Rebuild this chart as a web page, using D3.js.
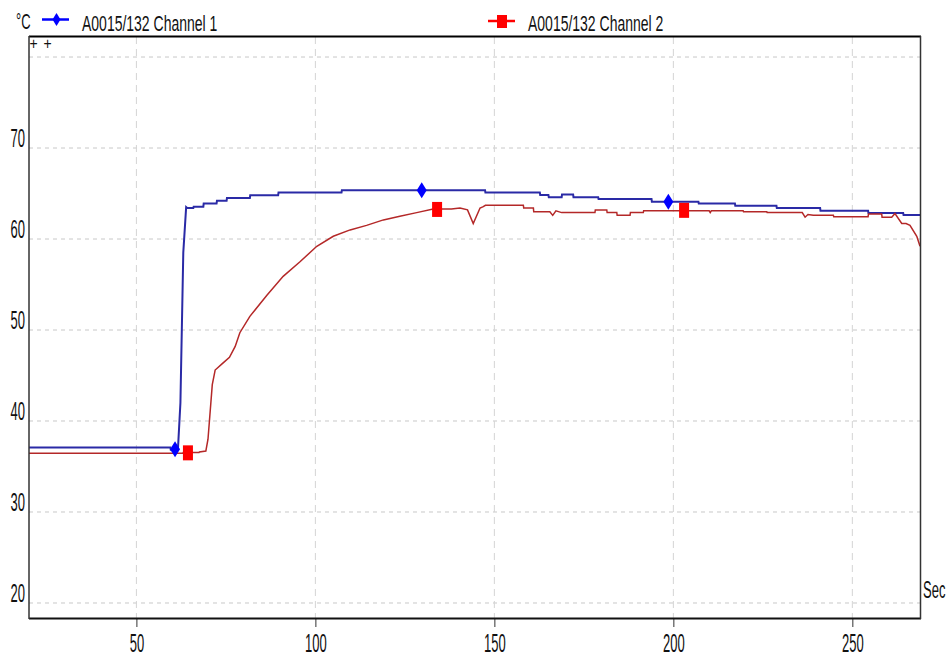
<!DOCTYPE html>
<html>
<head>
<meta charset="utf-8">
<script src="https://cdn.jsdelivr.net/npm/d3@7"></script>
<style>
  body { margin: 0; background: #fff; }
  text { font-family: "Liberation Sans", Arial, sans-serif; fill: #111; }
</style>
</head>
<body>
<svg></svg>
<script>
// Series names and axis ticks
const seriesNames = ["A0015/132 Channel 1", "A0015/132 Channel 2"];
const timeTicks = [50, 100, 150, 200, 250];
const tempTicks = [20, 30, 40, 50, 60, 70];
const gridTemps = [20, 30, 40, 50, 60, 70, 80];

// Channel 1 (time in sec, temperature in °C)
const ch1Time = [20, 59.5, 59.6, 61.6, 62.3, 63.1, 63.9, 64.2, 65.9, 66.0, 68.7, 68.8, 72.4, 72.5, 75.2, 75.3,
  81.7, 81.8, 89.6, 89.7, 107.3, 107.4, 147.4, 147.5, 162.7, 162.8, 165.1, 165.2, 168.8, 168.9, 172.0, 172.1,
  179.0, 179.1, 193.9, 194.0, 207.0, 207.1, 217.2, 217.3, 228.8, 228.9, 241.0, 241.1, 254.4, 254.5, 264.2, 264.3, 268.9];
const ch1Temp = [37.1, 37.1, 36.85, 36.85, 42, 58.5, 63.5, 63.4, 63.4, 63.55, 63.55, 63.9, 63.9, 64.2, 64.2, 64.5,
  64.5, 64.8, 64.8, 65.1, 65.1, 65.35, 65.35, 65.1, 65.1, 64.85, 64.85, 64.6, 64.6, 64.9, 64.9, 64.6,
  64.6, 64.4, 64.4, 64.1, 64.1, 63.9, 63.9, 63.65, 63.65, 63.4, 63.4, 63.1, 63.1, 62.85, 62.85, 62.65, 62.65];

// Channel 2
const ch2Time = [20, 63.0, 63.1, 67.5, 67.6, 69.4, 70.0, 71.2, 72.0, 74.0, 76.0, 77.6, 78.9, 81.7, 86.4, 91.0, 95.7,
  100.4, 105.0, 109.7, 114.3, 119.0, 123.6, 128.3, 132.9, 138, 140.4, 142.5, 144.1, 146.0, 146.9, 147.5, 158.1,
  158.2, 160.9, 161.0, 165.5, 166.3, 167.2, 168.8, 178.1, 178.2, 181.4, 181.5, 184.2, 184.3, 187.9, 188.0, 191.6,
  191.7, 210.0, 210.3, 210.6, 219.5, 219.6, 226.1, 226.2, 236.0, 236.8, 237.6, 239.1, 244.7, 244.8, 254.4, 254.5,
  258.2, 258.3, 261.0, 261.9, 263.8, 265.0, 266.1, 268.0, 268.9];
const ch2Temp = [36.45, 36.45, 36.55, 36.55, 36.6, 36.7, 38, 44, 45.6, 46.3, 47.0, 48.2, 49.7, 51.5, 53.8, 55.9, 57.5,
  59.2, 60.3, 61.0, 61.5, 62.1, 62.5, 62.9, 63.3, 63.3, 63.4, 63.2, 61.7, 63.4, 63.55, 63.7, 63.7,
  63.4, 63.4, 63.0, 63.0, 62.6, 63.1, 62.9, 62.9, 63.2, 63.2, 62.9, 62.9, 62.6, 62.6, 62.9, 62.9,
  63.1, 63.1, 62.9, 63.1, 63.1, 63.0, 63.0, 62.9, 62.9, 62.4, 62.7, 62.6, 62.6, 62.45, 62.45, 62.75,
  62.75, 62.4, 62.4, 62.8, 61.7, 61.7, 61.5, 60.3, 59.2];

// Point markers on each channel
const ch1MarkTime = [60.8, 129.7, 198.6];
const ch1MarkTemp = [36.9, 65.35, 64.1];
const ch2MarkTime = [64.4, 134, 203];
const ch2MarkTemp = [36.5, 63.25, 63.15];

// Chart layout
const svgWidth = 950;
const svgHeight = 660;
const plot = { left: 29, top: 37, right: 920, bottom: 618 };
const textStretch = 1.95;

const svg = d3.select("svg")
    .attr("width", svgWidth)
    .attr("height", svgHeight);

const xScale = d3.scaleLinear().domain([20, 268.9]).range([plot.left, plot.right]);
const yScale = d3.scaleLinear().domain([18.35, 82.2]).range([plot.bottom, plot.top]);

// Stretched narrow-looking text, like the logger software output
function tallText(x, y, str, size, stretch, anchor) {
    svg.append("g")
        .attr("transform", `translate(${x},${y}) scale(1,${stretch})`)
        .append("text")
        .attr("font-size", size + "px")
        .attr("text-anchor", anchor || "start")
        .text(str);
}

// Grid
svg.append("g").selectAll("line")
    .data(gridTemps)
    .join("line")
    .attr("x1", plot.left).attr("x2", plot.right)
    .attr("y1", d => yScale(d)).attr("y2", d => yScale(d))
    .attr("stroke", "#c8c8c8")
    .attr("stroke-dasharray", "4,4");

svg.append("g").selectAll("line")
    .data(timeTicks)
    .join("line")
    .attr("x1", d => xScale(d)).attr("x2", d => xScale(d))
    .attr("y1", plot.top).attr("y2", plot.bottom)
    .attr("stroke", "#d4d4d4")
    .attr("stroke-dasharray", "7,5");

// X axis
const xAxis = svg.append("g")
    .attr("transform", `translate(0,${plot.bottom})`)
    .call(d3.axisBottom(xScale).tickValues(timeTicks).tickSize(9).tickSizeOuter(0));
xAxis.select(".domain").remove();
xAxis.selectAll(".tick line").attr("stroke", "#333");
xAxis.selectAll(".tick text")
    .attr("font-size", "13px")
    .attr("font-family", "Liberation Sans, Arial, sans-serif")
    .attr("fill", "#111")
    .attr("dy", 0)
    .attr("y", 34 / textStretch)
    .attr("transform", `scale(1,${textStretch})`);

// Y axis
const yAxis = svg.append("g")
    .attr("transform", `translate(${plot.left},0)`)
    .call(d3.axisLeft(yScale).tickValues(tempTicks).tickSize(0).tickSizeOuter(0));
yAxis.select(".domain").remove();
yAxis.selectAll(".tick text")
    .attr("font-size", "13px")
    .attr("font-family", "Liberation Sans, Arial, sans-serif")
    .attr("fill", "#111")
    .attr("x", -4)
    .attr("dy", 0)
    .attr("y", -1.5 / textStretch)
    .attr("transform", `scale(1,${textStretch})`);

// Series lines
svg.append("clipPath").attr("id", "clip")
    .append("rect")
    .attr("x", plot.left).attr("y", plot.top)
    .attr("width", plot.right - plot.left).attr("height", plot.bottom - plot.top);

const line = d3.line()
    .x(d => xScale(d[0]))
    .y(d => yScale(d[1]));

svg.append("path")
    .datum(d3.zip(ch1Time, ch1Temp))
    .attr("clip-path", "url(#clip)")
    .attr("fill", "none")
    .attr("stroke", "#2a2aa6")
    .attr("stroke-width", 2)
    .attr("d", line);

svg.append("path")
    .datum(d3.zip(ch2Time, ch2Temp))
    .attr("clip-path", "url(#clip)")
    .attr("fill", "none")
    .attr("stroke", "#b42828")
    .attr("stroke-width", 1.5)
    .attr("d", line);

// Markers
const diamond = (cx, cy, w, h) => `M${cx},${cy - h / 2}L${cx + w / 2},${cy}L${cx},${cy + h / 2}L${cx - w / 2},${cy}Z`;

svg.append("g").selectAll("path")
    .data(d3.zip(ch1MarkTime, ch1MarkTemp))
    .join("path")
    .attr("d", d => diamond(xScale(d[0]), yScale(d[1]), 10, 16))
    .attr("fill", "#0000ff");

svg.append("g").selectAll("rect")
    .data(d3.zip(ch2MarkTime, ch2MarkTemp))
    .join("rect")
    .attr("x", d => xScale(d[0]) - 5)
    .attr("y", d => yScale(d[1]) - 7.5)
    .attr("width", 10)
    .attr("height", 15)
    .attr("fill", "#ff0000");

// Frame
svg.append("line").attr("x1", plot.left).attr("x2", plot.right + 1).attr("y1", 36.5).attr("y2", 36.5)
    .attr("stroke", "#000").attr("stroke-width", 2);
svg.append("line").attr("x1", plot.left).attr("x2", plot.right + 1).attr("y1", 618.5).attr("y2", 618.5)
    .attr("stroke", "#111").attr("stroke-width", 2);
svg.append("line").attr("x1", plot.left).attr("x2", plot.left).attr("y1", 36).attr("y2", 619)
    .attr("stroke", "#333").attr("stroke-width", 1.5);
svg.append("line").attr("x1", plot.right + 0.5).attr("x2", plot.right + 0.5).attr("y1", 36).attr("y2", 619)
    .attr("stroke", "#333").attr("stroke-width", 1.5);

// Legend
svg.append("line").attr("x1", 42).attr("x2", 69).attr("y1", 19.5).attr("y2", 19.5)
    .attr("stroke", "#0000ff").attr("stroke-width", 2.5);
svg.append("path").attr("d", diamond(56.5, 19.5, 8, 13)).attr("fill", "#0000ff");
tallText(82, 31, seriesNames[0], 14, 1.6);

svg.append("line").attr("x1", 488).attr("x2", 515).attr("y1", 21).attr("y2", 21)
    .attr("stroke", "#ff0000").attr("stroke-width", 2.5);
svg.append("rect").attr("x", 497).attr("y", 15).attr("width", 10).attr("height", 13).attr("fill", "#ff0000");
tallText(528, 31, seriesNames[1], 14, 1.6);

// Units and small marks
tallText(16, 29, "°C", 13, 1.7);
tallText(923, 598, "Sec", 13, 1.9);
tallText(29.5, 49, "+", 14, 1.2);
tallText(43.5, 49, "+", 14, 1.2);
</script>
</body>
</html>
